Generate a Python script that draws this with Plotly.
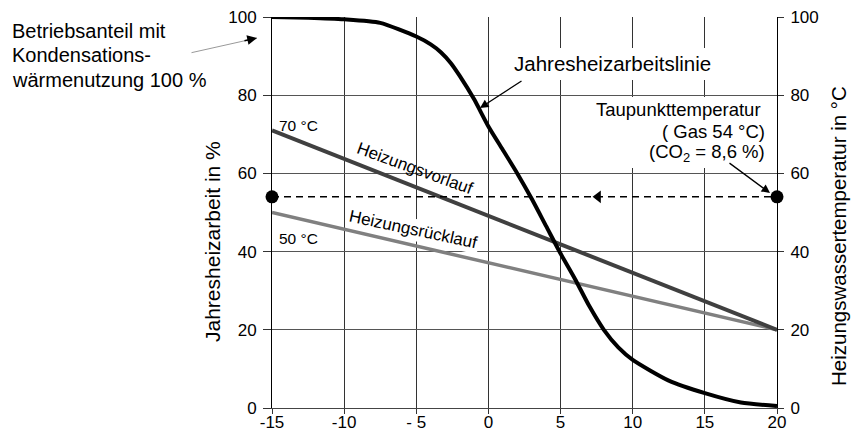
import plotly.graph_objects as go

# ---------------- data ----------------
x_curve = [-15, -12.5, -10, -7.5, -5, -4, -3.3, -2.6, -2, -1, 0, 1, 2, 3, 4, 5, 6, 7, 8, 9, 10, 12.5, 15, 17.5, 20]
y_curve = [100, 99.8, 99.4, 98.5, 95, 93, 91, 88.2, 85, 79, 72, 66, 60, 53.5, 46.5, 39.5, 33, 26, 20, 15.5, 12.3, 7, 3.8, 1.4, 0.5]

x_lines = [-15, 20]
vorlauf = [71, 20]
ruecklauf = [50, 20]
taupunkt = [54, 54]
arrow_x = [7.6]
arrow_y = [54]

x_ticks = [-15, -10, -5, 0, 5, 10, 15, 20]
x_ticktext = ["-15", "-10", "- 5", "0", "5", "10", "15", "20"]
y_ticks = [0, 20, 40, 60, 80, 100]

FONT = "Liberation Sans, Arial, sans-serif"

fig = go.Figure()

fig.add_trace(go.Scatter(x=x_lines, y=ruecklauf, mode="lines",
                         line=dict(color="#808080", width=3.5), hoverinfo="skip"))
fig.add_trace(go.Scatter(x=x_lines, y=vorlauf, mode="lines",
                         line=dict(color="#404040", width=4), hoverinfo="skip"))
fig.add_trace(go.Scatter(x=x_lines, y=taupunkt, mode="lines+markers",
                         line=dict(color="black", width=1.5, dash="7px,5px"),
                         marker=dict(size=13, color="black"), cliponaxis=False, hoverinfo="skip"))
fig.add_trace(go.Scatter(x=arrow_x, y=arrow_y, mode="markers",
                         marker=dict(symbol="triangle-left", size=11, color="black"), hoverinfo="skip"))
fig.add_trace(go.Scatter(x=x_curve, y=y_curve, mode="lines",
                         line=dict(color="black", width=4, shape="spline", smoothing=0.6), hoverinfo="skip"))
# invisible trace for right axis
fig.add_trace(go.Scatter(x=[-15], y=[0], yaxis="y2", mode="markers",
                         marker=dict(size=1, color="rgba(0,0,0,0)"), hoverinfo="skip"))

def px2x(px):
    return (px - 272) / 505 * 35 - 15

def py2y(py):
    return (408 - py) / 391 * 100

def ppx(px):
    return (px - 272) / 505

def ppy(py):
    return (408 - py) / 391

ann = []
# left explanatory text
for txt, py in [("Betriebsanteil mit", 31), ("Kondensations-", 55.5), ("wärmenutzung 100 %", 80)]:
    ann.append(dict(text=txt, xref="paper", yref="paper", x=ppx(10), y=ppy(py),
                    xanchor="left", yanchor="middle", showarrow=False,
                    font=dict(size=20, color="black", family=FONT)))
# left arrow: gray line + black head
ann.append(dict(text="", xref="paper", yref="paper", x=ppx(257), y=ppy(38),
                ax=190 - 257, ay=53 - 38, showarrow=True, arrowhead=0,
                arrowcolor="#999999", arrowwidth=1))
ann.append(dict(text="", xref="paper", yref="paper", x=ppx(257), y=ppy(38),
                ax=-14, ay=3, showarrow=True, arrowhead=2, arrowsize=1.3,
                arrowcolor="black", arrowwidth=1.5))

# Jahresheizarbeitslinie
ann.append(dict(text="Jahresheizarbeitslinie", x=px2x(612), y=py2y(63),
                showarrow=False, xanchor="center", yanchor="middle",
                font=dict(size=20.5, color="black", family=FONT)))
ann.append(dict(text="", x=px2x(480), y=py2y(108), ax=43, ay=-28,
                showarrow=True, arrowhead=2, arrowsize=1.3, arrowwidth=1.3, arrowcolor="black"))

# Taupunkt
for txt, pxr, py in [("Taupunkttemperatur", 763, 109), ("( Gas 54 °C)", 767, 131),
                     ("(CO<sub>2</sub> = 8,6 %)", 767, 153)]:
    ann.append(dict(text=txt, x=px2x(pxr), y=py2y(py), showarrow=False,
                    xanchor="right", yanchor="middle",
                    font=dict(size=18.5, color="black", family=FONT)))
ann.append(dict(text="", x=px2x(770), y=py2y(193), ax=-42, ay=-31,
                showarrow=True, arrowhead=2, arrowsize=1.3, arrowwidth=1.3, arrowcolor="black"))

# line labels
ann.append(dict(text="Heizungsvorlauf", x=px2x(415), y=py2y(168), textangle=20,
                xanchor="center", yanchor="middle",
                showarrow=False, font=dict(size=17, color="black", family=FONT)))
ann.append(dict(text="Heizungsrücklauf", x=px2x(413), y=py2y(229), textangle=12,
                xanchor="center", yanchor="middle",
                showarrow=False, bgcolor="white",
                font=dict(size=17, color="black", family=FONT)))
ann.append(dict(text="70 °C", x=px2x(277), y=py2y(125), xanchor="left", yanchor="middle",
                showarrow=False, font=dict(size=15.5, color="black", family=FONT)))
ann.append(dict(text="50 °C", x=px2x(277), y=py2y(238.5), xanchor="left", yanchor="middle",
                showarrow=False, font=dict(size=15.5, color="black", family=FONT)))

# axis titles
ann.append(dict(text="Jahresheizarbeit in %", xref="paper", yref="paper",
                x=ppx(212), y=ppy(242), textangle=-90, showarrow=False,
                xanchor="center", yanchor="middle",
                font=dict(size=21, color="black", family=FONT)))
ann.append(dict(text="Heizungswassertemperatur in °C", xref="paper", yref="paper",
                x=ppx(838), y=ppy(236), textangle=-90, showarrow=False,
                xanchor="center", yanchor="middle",
                font=dict(size=20.5, color="black", family=FONT)))

shapes = [
    dict(type="rect", xref="x", yref="y", x0=px2x(590), x1=px2x(772), y0=py2y(168), y1=py2y(97),
         fillcolor="white", line=dict(width=0), layer="between"),
    dict(type="rect", xref="x", yref="y", x0=px2x(506), x1=px2x(720), y0=py2y(80), y1=py2y(48),
         fillcolor="white", line=dict(width=0), layer="between"),
]

fig.update_layout(
    width=856, height=437,
    margin=dict(l=272, r=79, t=17, b=29, autoexpand=False),
    paper_bgcolor="white", plot_bgcolor="white",
    showlegend=False,
    font=dict(family=FONT, size=17, color="black"),
    annotations=ann, shapes=shapes,
    xaxis=dict(range=[-15, 20], tickvals=x_ticks, ticktext=x_ticktext, automargin=False,
               showgrid=True, gridcolor="#333333", gridwidth=1,
               zeroline=False, showline=True, linecolor="#444444", linewidth=1,
               ticks="outside", ticklen=5, tickcolor="#333333",
               ticklabelstandoff=-6,
               tickfont=dict(size=17, family=FONT, color="black")),
    yaxis=dict(range=[0, 100], tickvals=y_ticks, automargin=False,
               showgrid=True, gridcolor="#555555", gridwidth=1,
               zeroline=False, showline=True, linecolor="black", linewidth=1,
               ticks="outside", ticklen=8, tickcolor="#333333",
               ticklabelstandoff=3,
               tickfont=dict(size=17, family=FONT, color="black")),
    yaxis2=dict(range=[0, 100], tickvals=y_ticks, overlaying="y", side="right", automargin=False,
                showgrid=False, zeroline=False, showline=True, linecolor="black", linewidth=1,
                ticks="outside", ticklen=6, tickcolor="#333333",
                ticklabelstandoff=3,
                tickfont=dict(size=17, family=FONT, color="black")),
)

fig.write_html("out.html")
